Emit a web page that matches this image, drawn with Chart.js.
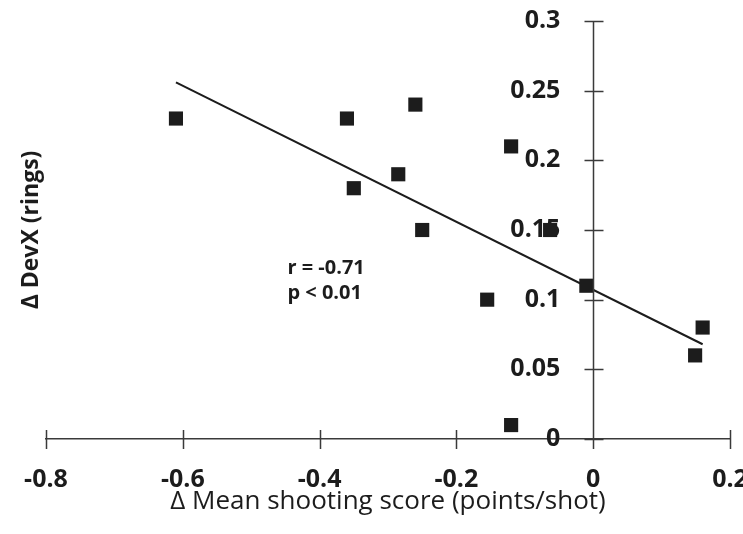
<!DOCTYPE html>
<html>
<head>
<meta charset="utf-8">
<script src="https://cdn.jsdelivr.net/npm/chart.js@4"></script>
<style>
  html, body { margin: 0; padding: 0; background: #ffffff; }
  #wrap { width: 743px; height: 534px; }
</style>
</head>
<body>
<div id="wrap"><canvas id="c" width="743" height="534"></canvas></div>
<script>
// ---- data ----
const meanScoreChange = [-0.61, -0.36, -0.26, -0.35, -0.285, -0.25, -0.12, -0.063, -0.155, -0.01, -0.12, 0.149, 0.16];
const devXChange      = [0.23, 0.23, 0.24, 0.18, 0.19, 0.15, 0.21, 0.15, 0.10, 0.11, 0.01, 0.06, 0.08];
const trendX = [-0.61, 0.16];
const trendY = [0.256, 0.068];
const xTickValues = [-0.8, -0.6, -0.4, -0.2, 0, 0.2];
const xTickLabels = ['-0.8', '-0.6', '-0.4', '-0.2', '0', '0.2'];
const yTickValues = [0, 0.05, 0.1, 0.15, 0.2, 0.25, 0.3];
const yTickLabels = ['0', '0.05', '0.1', '0.15', '0.2', '0.25', '0.3'];
const statLines = ['r = -0.71', 'p < 0.01'];
const statAnchorX = -0.447;
const statAnchorY = [0.1227, 0.1048];

const INK = '#1c1c1c';
const AXIS = '#3a3a3a';
// the y labels sit a little left of the axis that crosses at x = 0
const Y_LABEL_GAP_X = -0.048;

const points = meanScoreChange.map((x, i) => ({ x: x, y: devXChange[i] }));
const trend = trendX.map((x, i) => ({ x: x, y: trendY[i] }));

const crossAxis = {
  id: 'crossAxis',
  afterDraw(chart) {
    const ctx = chart.ctx;
    const xs = chart.scales.x, ys = chart.scales.y;
    const x0 = Math.round(xs.getPixelForValue(0)) + 0.5;
    const y0 = ys.getPixelForValue(0);
    ctx.save();
    ctx.strokeStyle = AXIS;
    ctx.lineWidth = 1.5;
    ctx.beginPath();
    // vertical axis through x = 0
    ctx.moveTo(x0, ys.getPixelForValue(0.3));
    ctx.lineTo(x0, y0 + 10);
    xTickValues.forEach(v => {
      const p = Math.round(xs.getPixelForValue(v)) + 0.5;
      ctx.moveTo(p, y0 - 9); ctx.lineTo(p, y0 + 10);
    });
    yTickValues.forEach(v => {
      const p = Math.round(ys.getPixelForValue(v)) + 0.5;
      ctx.moveTo(x0 - 9, p); ctx.lineTo(x0 + 10, p);
    });
    ctx.stroke();
    ctx.restore();
  }
};

const statText = {
  id: 'statText',
  afterDatasetsDraw(chart) {
    const ctx = chart.ctx;
    const xs = chart.scales.x, ys = chart.scales.y;
    ctx.save();
    ctx.fillStyle = INK;
    ctx.font = 'bold 20px "Open Sans"';
    ctx.textAlign = 'left';
    ctx.textBaseline = 'middle';
    statLines.forEach((t, i) => {
      ctx.fillText(t, xs.getPixelForValue(statAnchorX), ys.getPixelForValue(statAnchorY[i]));
    });
    ctx.restore();
  }
};

new Chart(document.getElementById('c'), {
  type: 'scatter',
  data: {
    datasets: [
      {
        data: points,
        pointStyle: 'rect',
        pointRadius: 10,
        pointHoverRadius: 10,
        backgroundColor: INK,
        borderColor: INK,
        borderWidth: 0,
        order: 1
      },
      {
        type: 'line',
        data: trend,
        borderColor: INK,
        borderWidth: 2,
        pointRadius: 0,
        fill: false,
        tension: 0,
        order: 2
      }
    ]
  },
  plugins: [crossAxis, statText],
  options: {
    responsive: false,
    animation: false,
    devicePixelRatio: 1,
    layout: { padding: { left: 18, right: 13, top: 21, bottom: 19 } },
    plugins: {
      legend: { display: false },
      tooltip: { enabled: false },
      title: {
        display: true,
        text: 'Δ DevX (rings)',
        position: 'left',
        fullSize: false,
        color: INK,
        font: { family: 'Open Sans', size: 23, weight: 'bold', lineHeight: 1.2 },
        padding: { top: 0, bottom: 0.4 }
      },
      subtitle: {
        display: true,
        text: 'Δ Mean shooting score (points/shot)',
        position: 'bottom',
        fullSize: false,
        color: INK,
        font: { family: 'Open Sans', size: 26, weight: 'normal', lineHeight: 1.0 },
        padding: { top: 50, bottom: 0 }
      }
    },
    scales: {
      x: {
        type: 'linear',
        position: { y: 0 },
        min: -0.8, max: 0.2,
        afterBuildTicks(scale) { scale.ticks = xTickValues.map(v => ({ value: v })); },
        afterFit(scale) { scale.paddingLeft = 0; scale.paddingRight = 0; },
        grid: { display: false, drawTicks: false },
        border: { display: true, color: AXIS, width: 1.5 },
        ticks: {
          padding: 26,
          color: INK,
          font: { family: 'Open Sans', size: 25, weight: 'bold' },
          maxRotation: 0,
          autoSkip: false,
          callback: (v) => xTickLabels[xTickValues.findIndex(t => Math.abs(t - v) < 1e-9)]
        }
      },
      y: {
        type: 'linear',
        position: { x: Y_LABEL_GAP_X },
        min: 0, max: 0.3,
        afterBuildTicks(scale) { scale.ticks = yTickValues.map(v => ({ value: v })); },
        afterFit(scale) { scale.paddingTop = 0; scale.paddingBottom = 0; },
        grid: { display: false, drawTicks: false },
        border: { display: false },
        ticks: {
          padding: 0,
          color: INK,
          font: { family: 'Open Sans', size: 25, weight: 'bold' },
          autoSkip: false,
          callback: (v) => yTickLabels[yTickValues.findIndex(t => Math.abs(t - v) < 1e-9)]
        }
      }
    }
  }
});
</script>
</body>
</html>
